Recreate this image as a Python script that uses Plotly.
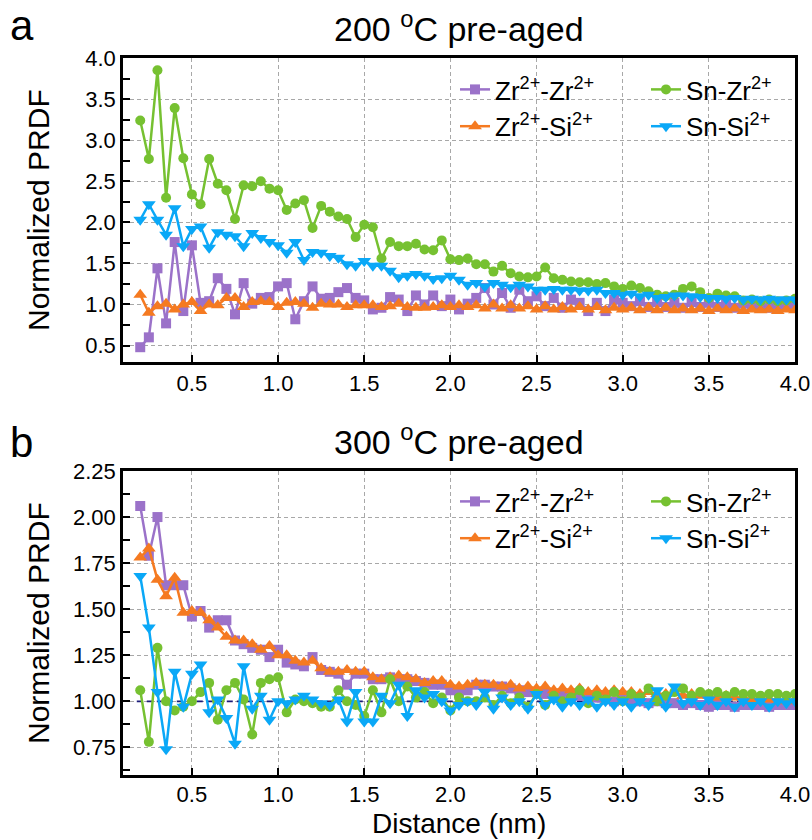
import plotly.graph_objects as go

# ---------------- data ----------------
distance = [round(0.2 + 0.05 * i, 2) for i in range(77)]  # nm

a_zrzr = [0.48,0.60,1.44,0.77,1.76,0.92,1.72,1.02,1.04,1.32,
          1.19,0.88,1.26,1.01,1.08,1.09,1.22,1.26,0.82,1.04,
          1.22,1.07,1.08,1.15,1.20,1.08,1.05,0.94,0.96,1.09,
          1.06,0.92,1.11,1.00,1.11,0.98,1.06,0.94,1.01,
          1.08,1.20,1.00,1.14,0.96,1.18,1.04,1.10,0.98,1.08,
          0.96,1.06,1.02,0.92,1.02,0.92,1.06,1.02,0.98,1.04,
          0.97,1.03,0.97,1.02,0.96,1.03,0.97,1.02,0.97,1.01,
          0.96,1.01,0.97,1.00,0.96,1.00,0.97,0.99]
a_zrsi = [1.12,0.90,0.98,1.01,0.94,1.00,1.03,0.92,1.00,0.99,
          1.08,1.08,0.97,1.03,1.04,1.03,0.97,1.02,1.03,1.01,
          0.96,1.01,1.00,1.00,0.97,0.99,0.99,0.99,0.97,0.98,
          1.01,0.97,0.96,0.96,0.97,0.99,0.97,0.99,0.97,
          0.99,0.95,1.00,0.95,0.99,0.95,0.98,0.94,0.98,0.94,
          0.97,0.94,0.97,0.94,0.97,0.93,0.96,0.94,0.96,0.93,
          0.96,0.93,0.96,0.93,0.95,0.93,0.95,0.92,0.95,0.93,
          0.95,0.92,0.94,0.93,0.94,0.92,0.94,0.93]
a_snzr = [3.24,2.77,3.85,2.30,3.39,2.78,2.34,2.22,2.77,2.47,
          2.39,2.04,2.45,2.44,2.50,2.41,2.39,2.15,2.23,2.27,
          1.93,2.20,2.13,2.07,2.04,1.82,1.97,1.94,1.56,1.76,
          1.71,1.71,1.74,1.67,1.66,1.78,1.55,1.54,1.56,
          1.49,1.49,1.40,1.47,1.38,1.34,1.33,1.34,1.45,1.32,
          1.30,1.28,1.27,1.27,1.25,1.26,1.22,1.19,1.23,1.20,
          1.16,1.12,1.10,1.12,1.19,1.22,1.15,1.08,1.13,1.11,
          1.10,1.05,1.06,1.04,1.06,1.04,1.05,1.07]
a_snsi = [2.03,2.22,2.03,1.85,2.17,1.71,1.92,1.95,1.69,1.88,
          1.85,1.83,1.71,1.87,1.81,1.76,1.72,1.63,1.76,1.54,
          1.64,1.63,1.59,1.57,1.49,1.47,1.53,1.47,1.47,1.41,
          1.33,1.35,1.37,1.35,1.31,1.32,1.35,1.30,1.24,
          1.26,1.22,1.26,1.24,1.21,1.24,1.22,1.18,1.18,1.19,
          1.18,1.18,1.17,1.17,1.18,1.14,1.14,1.12,1.13,1.10,
          1.12,1.08,1.09,1.11,1.11,1.10,1.09,1.08,1.08,1.07,
          1.08,1.06,1.07,1.06,1.07,1.06,1.06,1.06]

b_zrzr = [2.06,1.79,2.00,1.63,1.63,1.63,1.46,1.49,1.40,1.44,
          1.44,1.33,1.31,1.29,1.28,1.24,1.28,1.21,1.20,1.19,
          1.24,1.17,1.16,1.15,1.09,1.15,1.15,1.12,1.12,1.13,
          1.12,1.12,1.11,1.10,1.09,1.09,1.06,1.05,1.06,
          1.09,1.09,1.08,1.08,1.07,1.06,1.05,1.05,1.04,1.03,
          1.04,1.02,1.03,1.01,1.02,1.01,1.00,1.01,1.00,1.00,
          0.99,1.00,0.99,0.99,0.98,0.99,0.98,0.97,0.98,0.98,
          0.97,0.98,0.98,0.98,0.97,0.98,0.98,0.98]
b_zrsi = [1.78,1.83,1.66,1.57,1.67,1.48,1.49,1.48,1.44,1.40,
          1.35,1.33,1.33,1.31,1.28,1.30,1.25,1.25,1.22,1.21,
          1.22,1.18,1.16,1.16,1.17,1.16,1.16,1.13,1.12,1.13,
          1.14,1.13,1.12,1.10,1.11,1.11,1.09,1.08,1.09,
          1.10,1.09,1.09,1.08,1.09,1.07,1.08,1.07,1.08,1.06,
          1.07,1.06,1.07,1.05,1.06,1.05,1.06,1.05,1.05,1.04,
          1.05,1.04,1.04,1.05,1.03,1.04,1.03,1.03,1.02,1.03,
          1.02,1.02,1.01,1.02,1.01,1.01,1.00,1.01]
b_snzr = [1.06,0.78,1.29,1.00,0.95,0.97,1.00,1.05,1.10,0.90,
          1.06,1.10,1.01,0.82,1.10,1.12,1.13,0.94,1.01,1.00,
          0.99,0.97,0.97,1.06,1.00,0.98,0.92,1.06,0.94,1.12,
          1.00,1.08,1.02,1.05,0.99,1.02,0.95,1.02,1.00,
          1.00,1.02,0.98,1.03,0.99,1.02,0.97,1.04,0.98,1.03,
          1.00,1.02,1.06,0.99,1.03,1.01,1.05,1.00,1.04,1.02,
          1.07,1.00,1.03,1.05,1.07,1.03,1.05,1.04,1.05,1.03,
          1.05,1.04,1.04,1.03,1.04,1.04,1.03,1.04]
b_snsi = [1.68,1.40,1.05,0.74,1.16,0.97,1.15,1.20,0.94,1.01,
          0.91,0.77,1.19,0.96,1.03,0.90,1.00,0.99,1.01,1.03,
          1.01,0.99,0.98,1.01,0.89,1.05,0.89,0.89,1.03,0.99,
          1.09,0.92,1.06,1.02,1.04,1.00,0.95,0.98,1.00,
          0.98,1.05,0.96,1.02,0.98,1.00,0.96,1.04,0.98,1.01,
          0.97,1.00,0.98,1.01,0.97,1.00,0.98,1.00,0.97,1.00,
          0.98,1.06,0.97,1.08,0.99,1.00,0.98,1.01,0.98,1.00,
          0.97,1.00,0.98,1.00,0.97,1.00,0.99,1.00]

series_names = ["Zr<sup>2+</sup>-Zr<sup>2+</sup>", "Zr<sup>2+</sup>-Si<sup>2+</sup>",
                "Sn-Zr<sup>2+</sup>", "Sn-Si<sup>2+</sup>"]
panel_titles = ["200 <sup>o</sup>C pre-aged", "300 <sup>o</sup>C pre-aged"]
panel_letters = ["a", "b"]
y_title = "Normalized PRDF"
x_title = "Distance (nm)"
ref_level = 1.0

# ---------------- styling ----------------
colors = ["#9b72c9", "#f57a21", "#76c131", "#0aa8f7"]
symbols = ["square", "triangle-up", "circle", "triangle-down"]
msizes = [10, 12, 10, 12]
FONT = "Liberation Sans, Arial, sans-serif"

fig = go.Figure()

# legend names: column 1 (Zr-Zr, Zr-Si), column 2 (Sn-Zr, Sn-Si)
panels = [
    dict(data=[a_zrzr, a_zrsi, a_snzr, a_snsi], xa="x", ya="y", legends=["legend", "legend", "legend3", "legend3"]),
    dict(data=[b_zrzr, b_zrsi, b_snzr, b_snsi], xa="x2", ya="y2", legends=["legend2", "legend2", "legend4", "legend4"]),
]
for p in panels:
    for i, ys in enumerate(p["data"]):
        fig.add_trace(go.Scatter(
            x=distance, y=ys, mode="lines+markers", name=series_names[i],
            xaxis=p["xa"], yaxis=p["ya"], legend=p["legends"][i],
            line=dict(color=colors[i], width=2.5),
            marker=dict(symbol=symbols[i], size=msizes[i], color=colors[i]),
        ))

# reference line at 1.0 in panel b
fig.add_shape(type="line", xref="x2", yref="y2", x0=distance[0] - 0.02, x1=distance[-1],
              y0=ref_level, y1=ref_level, layer="between",
              line=dict(color="#1b1b7a", width=1.8, dash="6px,4px"))

L, R = 123 / 812, 795 / 812
dom_a = [1 - 362 / 840, 1 - 58 / 840]
dom_b = [1 - 775 / 840, 1 - 471 / 840]

axis_common = dict(
    showline=True, linewidth=2.5, linecolor="black", mirror=True,
    ticks="inside", ticklen=7, tickwidth=2, tickcolor="black",
    showgrid=True, gridcolor="#a8a8a8", gridwidth=1, griddash="4px,3px",
    zeroline=False, automargin=False,
    tickfont=dict(family=FONT, size=22, color="black"),
)
xaxis_common = dict(axis_common, range=[0.1, 4.0], tick0=0.5, dtick=0.5, tickformat=".1f")


def legend_box(px, py):
    return dict(orientation="v", x=px / 812, y=1 - py / 840, xanchor="left", yanchor="top",
                bgcolor="rgba(255,255,255,0)", font=dict(family=FONT, size=26),
                tracegroupgap=0)


fig.update_layout(
    width=812, height=840, margin=dict(l=0, r=0, t=0, b=0, autoexpand=False),
    paper_bgcolor="white", plot_bgcolor="white",
    font=dict(family=FONT, color="black"),
    xaxis=dict(xaxis_common, domain=[L, R], anchor="y"),
    yaxis=dict(axis_common, domain=dom_a, anchor="x", range=[0.3, 4.0], tick0=0.5, dtick=0.5,
               tickformat=".1f",
               minor=dict(ticks="inside", ticklen=7, tickwidth=2, tickcolor="black", dtick=0.25,
                          tick0=0.25, showgrid=False)),
    xaxis2=dict(xaxis_common, domain=[L, R], anchor="y2", ticklabelstandoff=-2),
    yaxis2=dict(axis_common, domain=dom_b, anchor="x2", range=[0.6, 2.25], tick0=0.75, dtick=0.25,
                tickformat=".2f",
                minor=dict(ticks="inside", ticklen=7, tickwidth=2, tickcolor="black", dtick=0.125,
                           tick0=0.625, showgrid=False)),
    legend=legend_box(455, 66),
    legend3=legend_box(646, 66),
    legend2=legend_box(455, 478),
    legend4=legend_box(646, 478),
)

# panel titles, letters, axis titles
title_y = [3, 416]
letter_y = [0, 417]
ytitle_y = [(58 + 362) / 2, (471 + 775) / 2]
for k in range(2):
    fig.add_annotation(text=panel_titles[k], xref="paper", yref="paper",
                       x=(L + R) / 2, y=1 - title_y[k] / 840, showarrow=False,
                       xanchor="center", yanchor="top",
                       font=dict(family=FONT, size=34, color="black"))
    fig.add_annotation(text=panel_letters[k], xref="paper", yref="paper",
                       x=8 / 812, y=1 - letter_y[k] / 840, showarrow=False,
                       xanchor="left", yanchor="top",
                       font=dict(family=FONT, size=42, color="black"))
    fig.add_annotation(text=y_title, xref="paper", yref="paper", textangle=-90,
                       x=38 / 812, y=1 - ytitle_y[k] / 840, showarrow=False,
                       xanchor="center", yanchor="middle",
                       font=dict(family=FONT, size=30, color="black"))
fig.add_annotation(text=x_title, xref="paper", yref="paper",
                   x=(L + R) / 2, y=0, showarrow=False, borderpad=0,
                   xanchor="center", yanchor="bottom",
                   font=dict(family=FONT, size=28, color="black"))

fig.write_html("out.html")
